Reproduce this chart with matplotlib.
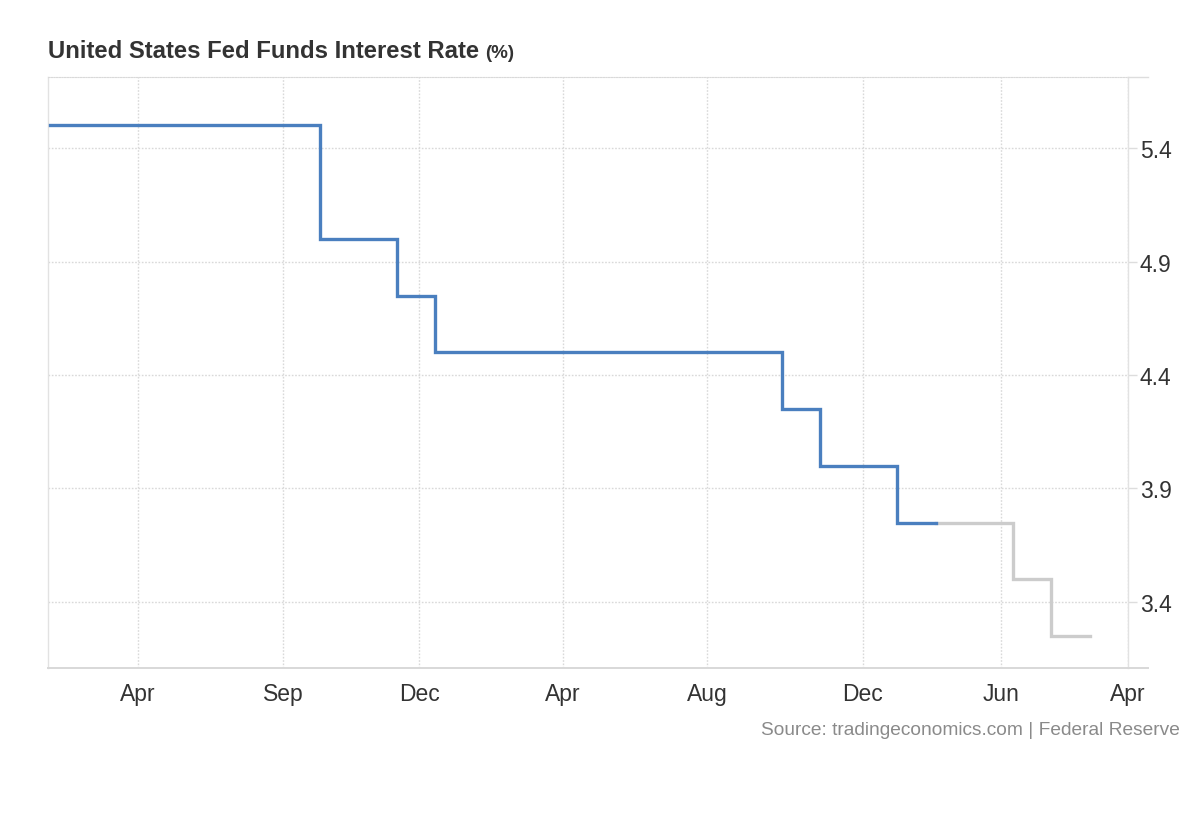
# -*- coding: utf-8 -*-
# Tasa de fondos federales de EE.UU. (escalonada, eje ordinal por punto)
import numpy as np
import pandas as pd
import matplotlib
matplotlib.use("Agg")
import matplotlib.pyplot as plt
from matplotlib.lines import Line2D

plt.rcParams['font.family'] = ['Liberation Sans', 'DejaVu Sans']

# Datos históricos: un punto por mes (fecha de reunión cuando la hubo)
fechas = [
    "2024-01-31", "2024-02-29", "2024-03-20", "2024-05-01", "2024-06-12",
    "2024-07-31", "2024-08-31", "2024-09-18", "2024-10-31", "2024-11-07",
    "2024-12-18", "2025-01-29", "2025-02-28", "2025-03-19", "2025-04-30",
    "2025-05-07", "2025-06-18", "2025-07-30", "2025-08-31", "2025-09-17",
    "2025-10-29", "2025-11-30", "2025-12-10", "2026-01-28",
]
tasa = [5.5, 5.5, 5.5, 5.5, 5.5, 5.5, 5.5, 5.0, 5.0, 4.75,
        4.5, 4.5, 4.5, 4.5, 4.5, 4.5, 4.5, 4.5, 4.5, 4.25,
        4.0, 4.0, 3.75, 3.75]

# Pronóstico (trimestral)
fechas_pron = ["2026-01-28", "2026-03-31", "2026-06-30", "2026-09-30", "2026-12-31"]
tasa_pron = [3.75, 3.75, 3.5, 3.25, 3.25]

# Etiquetas del eje X
ticks_fechas = ["2024-04-01", "2024-09-01", "2024-12-01", "2025-04-01",
                "2025-08-01", "2025-12-01", "2026-06-01", "2027-04-01"]
ticks_y = [3.4, 3.9, 4.4, 4.9, 5.4]

# Eje ordinal: cada punto ocupa el mismo ancho
todas = pd.to_datetime(sorted(set(fechas) | set(fechas_pron)))
num = todas.values.astype("datetime64[D]").astype(float)
idx = np.arange(len(todas), dtype=float)


def a_indice(f):
    d = pd.to_datetime(f).values.astype("datetime64[D]").astype(float)
    pos = np.interp(d, num, idx)
    # extrapolar más allá del último punto con el último intervalo
    fuera = d > num[-1]
    pos[fuera] = idx[-1] + (d[fuera] - num[-1]) / (num[-1] - num[-2])
    return pos


x_hist = a_indice(fechas)
x_pron = a_indice(fechas_pron)
x_ticks = a_indice(ticks_fechas)
etiquetas = [pd.Timestamp(f).strftime("%b") for f in ticks_fechas]

# Graficar
fig = plt.figure(figsize=(12, 8.2), dpi=100)
ax = fig.add_axes([48 / 1200, 1 - 669 / 820, (1128 - 48) / 1200, (669 - 78) / 820])

ax.step(x_pron, tasa_pron, where="post", color="#cccccc", lw=2.4, zorder=3,
        solid_joinstyle="miter")
ax.step(x_hist, tasa, where="post", color="#4a7fbf", lw=2.4, zorder=4,
        solid_joinstyle="miter")

ax.set_xlim(-0.05, x_ticks[-1])
ax.set_ylim(3.109, 5.713)

punteado = (0, (1.2, 1.2))
ax.set_xticks(x_ticks)
ax.set_xticklabels(etiquetas)
ax.set_yticks(ticks_y)
ax.set_yticklabels([f"{v:.1f}" for v in ticks_y])
ax.grid(True, color="#d9d9d9", linestyle=punteado, lw=1)
ax.set_axisbelow(True)

ax.yaxis.tick_right()
ax.tick_params(axis="y", length=6.5, width=1, color="#dddddd", pad=2,
               labelsize=16.5, labelcolor="#333333")
ax.tick_params(axis="x", length=0, pad=10, labelsize=16.5, labelcolor="#333333")

for lado in ["left", "right"]:
    ax.spines[lado].set_color("#e2e2e2")
    ax.spines[lado].set_linewidth(1)
ax.spines["top"].set_color("#d9d9d9")
ax.spines["top"].set_linestyle(punteado)
ax.spines["bottom"].set_visible(False)

# línea base del eje X (se prolonga un poco a la derecha)
ax.add_line(Line2D([0, 1.0185], [0, 0], transform=ax.transAxes, color="#d8d8d8",
                   lw=1.4, clip_on=False, zorder=5))
ax.add_line(Line2D([1.0, 1.0185], [1, 1], transform=ax.transAxes, color="#dddddd",
                   lw=1, clip_on=False, zorder=5))

# Título
t = fig.text(48 / 1200, 1 - 52 / 820, "United States Fed Funds Interest Rate",
             fontsize=17.2, fontweight="bold", color="#333333", va="center")
fig.canvas.draw()
bb = t.get_window_extent()
fig.text((bb.x1 + 6) / 1200, 1 - 53 / 820, "(%)", fontsize=13.5,
         fontweight="bold", color="#333333", va="center")

# Fuente
fig.text(1180 / 1200, 1 - 731 / 820, "Source: tradingeconomics.com | Federal Reserve",
         fontsize=13.8, color="#8a8a8a", ha="right", va="center")

fig.savefig("out.png", dpi=100)
